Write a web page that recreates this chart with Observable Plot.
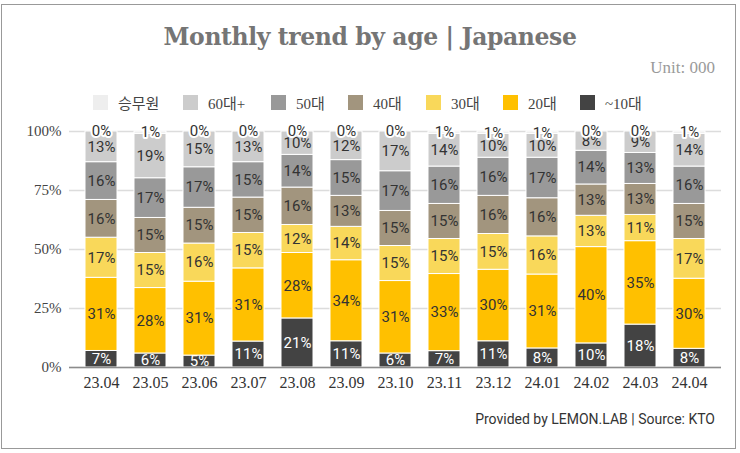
<!DOCTYPE html>
<html>
<head>
<meta charset="utf-8">
<script src="https://cdn.jsdelivr.net/npm/d3@7"></script>
<script src="https://cdn.jsdelivr.net/npm/@observablehq/plot@0.6"></script>
<style>
  body { margin: 0; background: #fff; }
  #frame { position: absolute; left: 1px; top: 4px; width: 735px; height: 445px; border: 1.5px solid #999; box-sizing: border-box; }
  #title { position: absolute; left: 0; top: 23px; width: 740px; text-align: center; font: bold 23.5px "DejaVu Serif", serif; color: #757575; letter-spacing: -0.4px; }
  #unit { position: absolute; right: 25px; top: 58px; font: 17px "Liberation Serif", serif; color: #9a9a9a; }
  .leg { position: absolute; top: 92px; display: flex; align-items: center; font: 15px "Liberation Serif", "Noto Sans CJK KR", serif; color: #444; white-space: nowrap; }
  .leg span.sw { display: inline-block; width: 15px; height: 15px; margin-right: 10px; }
  #caption { position: absolute; right: 25px; top: 411px; font: 14px Roboto, sans-serif; color: #333; }
  #chart { position: absolute; left: 0; top: 110px; }
</style>
</head>
<body>
<div id="frame"></div>
<div id="title">Monthly trend by age | Japanese</div>
<div id="unit">Unit: 000</div>
<div id="legend"></div>
<div id="chart"></div>
<div id="caption">Provided by LEMON.LAB | Source: KTO</div>
<script>
const months = ["23.04","23.05","23.06","23.07","23.08","23.09","23.10","23.11","23.12","24.01","24.02","24.03","24.04"];
const ages = ["~10대","20대","30대","40대","50대","60대+","승무원"];
const colors = ["#434343","#ffc000","#f9d85a","#a2957e","#999999","#cccccc","#eeeeee"];
const teens   = [7, 6, 5, 11, 21, 11, 6, 7, 11, 8, 10, 18, 8];
const twenties= [31, 28, 31, 31, 28, 34, 31, 33, 30, 31, 40, 35, 30];
const thirties= [17, 15, 16, 15, 12, 14, 15, 15, 15, 16, 13, 11, 17];
const forties = [16, 15, 15, 15, 16, 13, 15, 15, 16, 16, 13, 13, 15];
const fifties = [16, 17, 17, 15, 14, 15, 17, 16, 16, 17, 14, 13, 16];
const sixties = [13, 19, 15, 13, 10, 12, 17, 14, 10, 10, 8, 9, 14];
const crew    = [0, 1, 0, 0, 0, 0, 0, 1, 1, 1, 0, 0, 1];
const yTicks = [0, 0.25, 0.5, 0.75, 1];

const series = [teens, twenties, thirties, forties, fifties, sixties, crew];
const data = [];
months.forEach((m, i) => ages.forEach((a, j) => data.push({month: m, age: a, value: series[j][i]})));
const colorOf = Object.fromEntries(ages.map((a, i) => [a, colors[i]]));

// legend (top-to-bottom order of stack)
const legendOrder = ["승무원","60대+","50대","40대","30대","20대","~10대"];
const legendLeft = [93, 183, 271, 348, 426, 503, 580];
const legend = document.getElementById("legend");
legendOrder.forEach((a, i) => {
  const d = document.createElement("div");
  d.className = "leg";
  d.style.left = legendLeft[i] + "px";
  d.innerHTML = `<span class="sw" style="background:${colorOf[a]}"></span><span>${a}</span>`;
  legend.appendChild(d);
});

const labelFont = "Roboto, sans-serif";
const stackOpts = {x: "month", y: "value", z: "age", order: ages, offset: "normalize"};
const chart = Plot.plot({
  width: 740,
  height: 290,
  marginLeft: 69,
  marginRight: 19,
  marginTop: 21,
  marginBottom: 33,
  style: {fontFamily: "'Liberation Serif', serif"},
  x: {domain: months, paddingInner: 0.35, paddingOuter: 0.3, label: null},
  y: {domain: [0, 1], label: null},
  marks: [
    Plot.gridY({ticks: yTicks, stroke: "#dcdcdc", strokeOpacity: 1, strokeWidth: 1.5}),
    Plot.barY(data, Plot.stackY({...stackOpts, fill: d => colorOf[d.age], stroke: "white", strokeWidth: 1})),
    Plot.ruleY([0], {stroke: "#8c8c8c", strokeWidth: 1.5}),
    Plot.axisY({ticks: yTicks, tickFormat: d3.format(".0%"), tickSize: 0, tickPadding: 8, fontSize: 15, fill: "#444", label: null}),
    Plot.axisX({tickSize: 0, tickPadding: 9, fontSize: 16, fill: "#333", label: null}),
    Plot.text(data, Plot.stackY({...stackOpts, text: d => (d.age === "~10대" || d.age === "승무원") ? null : d.value + "%", fill: "#333", fontSize: 15, fontFamily: labelFont})),
    Plot.text(data, Plot.stackY({...stackOpts, text: d => d.age === "~10대" ? d.value + "%" : null, fill: "white", fontSize: 15, fontFamily: labelFont})),
    Plot.text(data, Plot.stackY({...stackOpts, text: d => d.age === "승무원" ? d.value + "%" : null, fill: "#333", stroke: "white", strokeWidth: 4, fontSize: 15, fontFamily: labelFont}))
  ]
});
document.getElementById("chart").appendChild(chart);
</script>
</body>
</html>
